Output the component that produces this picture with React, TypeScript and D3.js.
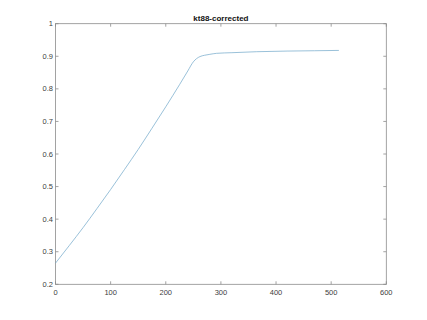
import React from "react";
import * as d3 from "d3";

const xValues = [0, 25, 50, 75, 100, 125, 150, 175, 200, 225, 240, 250, 256, 262, 270, 280, 292, 320, 365, 420, 470, 514];
const yValues = [0.265, 0.319, 0.374, 0.432, 0.491, 0.552, 0.614, 0.679, 0.745, 0.813, 0.855, 0.883, 0.893, 0.899, 0.903, 0.906, 0.909, 0.911, 0.914, 0.916, 0.917, 0.918];
const xTicks = [0, 100, 200, 300, 400, 500, 600];
const yTicks = [0.2, 0.3, 0.4, 0.5, 0.6, 0.7, 0.8, 0.9, 1];
const title = "kt88-corrected";

export default function App() {
  const W = 427, H = 320;
  const left = 55.5, right = 386.3, top = 23.7, bottom = 284.3;
  const x = d3.scaleLinear().domain([0, 600]).range([left, right]);
  const y = d3.scaleLinear().domain([0.2, 1]).range([bottom, top]);
  const pts: [number, number][] = xValues.map((v, i) => [v, yValues[i]]);
  const line = d3.line<[number, number]>().x(d => x(d[0])).y(d => y(d[1])).curve(d3.curveMonotoneX);
  const axisColor = "#8c8c8c";
  const textColor = "#404040";
  const tl = 3;
  const font = "Helvetica, Arial, 'Liberation Sans', sans-serif";
  return (
    <div style={{ position: "absolute", left: 0, top: 0 }}>
      <svg width={W} height={H} style={{ display: "block", background: "#fff" }}>
        <rect x={left} y={top} width={right - left} height={bottom - top} fill="none" stroke={axisColor} strokeWidth={0.8} />
        {xTicks.map(t => (
          <g key={"x" + t}>
            <line x1={x(t)} x2={x(t)} y1={bottom} y2={bottom - tl} stroke={axisColor} strokeWidth={0.8} />
            <line x1={x(t)} x2={x(t)} y1={top} y2={top + tl} stroke={axisColor} strokeWidth={0.8} />
            <text x={x(t)} y={bottom + 11} fontSize={7.5} fontFamily={font} fill={textColor} textAnchor="middle">{t}</text>
          </g>
        ))}
        {yTicks.map(t => (
          <g key={"y" + t}>
            <line x1={left} x2={left + tl} y1={y(t)} y2={y(t)} stroke={axisColor} strokeWidth={0.8} />
            <line x1={right} x2={right - tl} y1={y(t)} y2={y(t)} stroke={axisColor} strokeWidth={0.8} />
            <text x={left - 2.5} y={y(t)} dy="0.35em" fontSize={7.5} fontFamily={font} fill={textColor} textAnchor="end">{String(t)}</text>
          </g>
        ))}
        <path d={line(pts) || ""} fill="none" stroke="#6fa6c8" strokeWidth={0.7} />
        <text x={(left + right) / 2} y={20.5} fontSize={8} fontWeight="bold" fontFamily={font} fill="#111" textAnchor="middle">{title}</text>
      </svg>
    </div>
  );
}
